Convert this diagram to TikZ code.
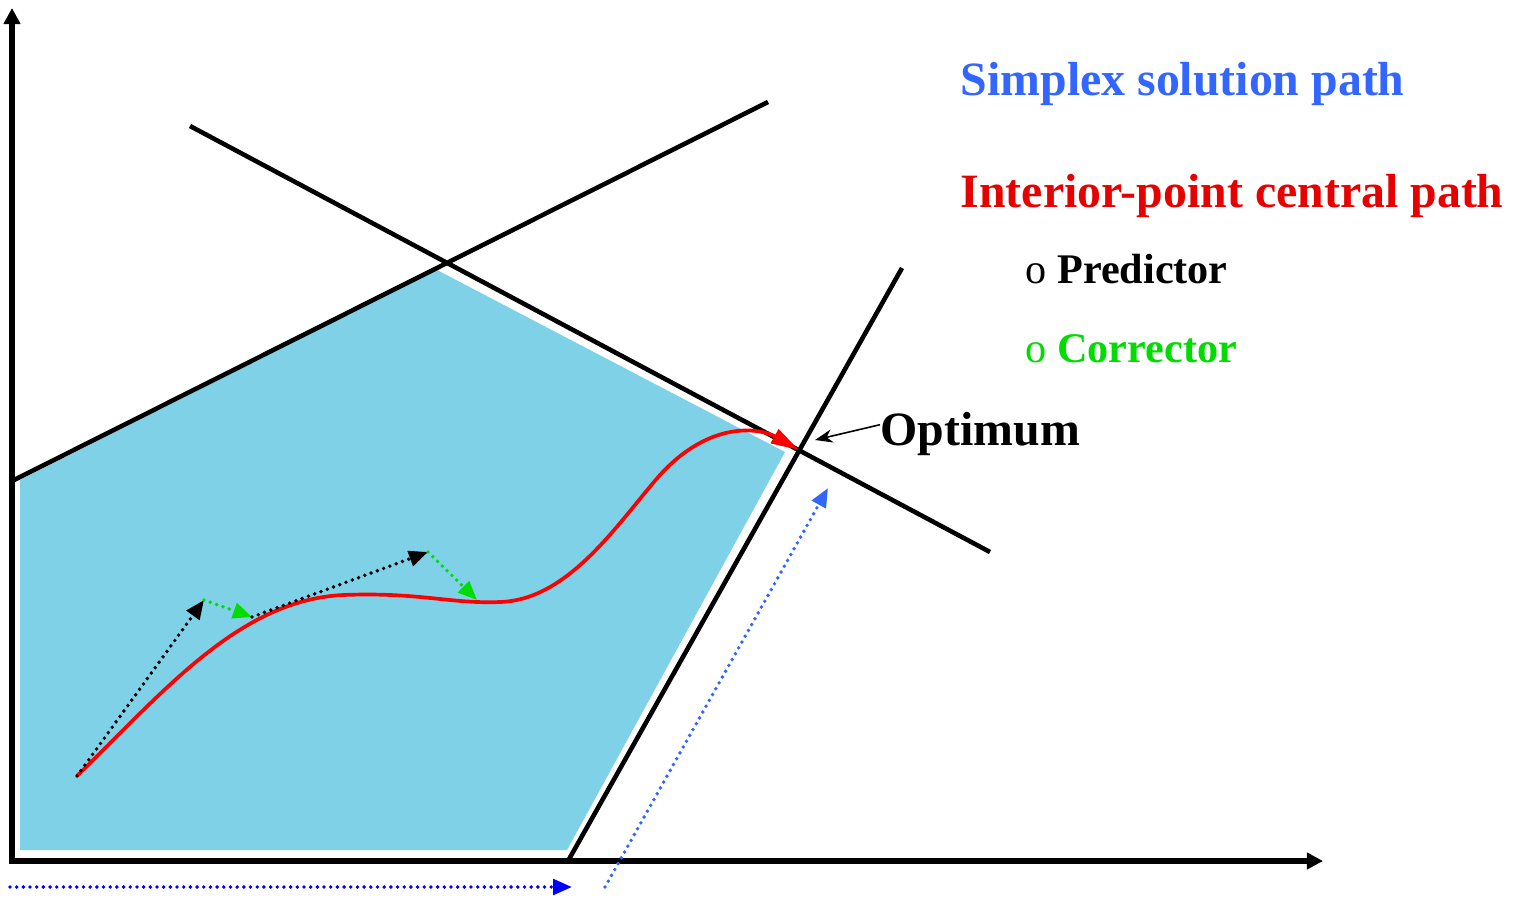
\documentclass[tikz,border=0pt]{standalone}
\usepackage{fontspec}
\setmainfont{Liberation Serif}
\usepackage{tikz}
\usetikzlibrary{arrows.meta,positioning,calc}
\usepackage{xcolor}
\definecolor{feasblue}{RGB}{127,209,232}
\definecolor{simplexblue}{RGB}{51,102,255}
\definecolor{ipred}{RGB}{230,0,0}
\definecolor{corrgreen}{RGB}{0,220,0}

\begin{document}
\begin{tikzpicture}[x=0.01cm,y=-0.01cm,
  bigtext/.style={font=\fontsize{13.6}{16}\selectfont\bfseries,inner sep=0pt,anchor=base west},
  itemtext/.style={font=\fontsize{12}{14}\selectfont,inner sep=0pt,anchor=base west},
  dotline/.style={line width=1.1pt,line cap=round,dash pattern=on 0pt off 1.9pt},
  dottip/.style={-{Triangle[length=5.4pt,width=4.4pt]}}]
\useasboundingbox (0,0) rectangle (1525,897);
\fill[feasblue] (20,480) -- (437,270) -- (785,452) -- (567,850) -- (20,850) -- cycle;
\draw[line width=1.6pt,{Triangle[length=4.6pt,width=4.6pt]}-{Triangle[length=4.6pt,width=4.6pt]}] (12,8) |- (1323,861);
\draw[line width=1.3pt] (14,480) -- (768,102);
\draw[line width=1.3pt] (190,126) -- (990,552);
\draw[line width=1.3pt] (568,861) -- (902,268);
\coordinate (x0) at (77,776);
\coordinate (p1) at (204,600);
\coordinate (x1) at (252,617);
\coordinate (p2) at (428,552);
\coordinate (x2) at (477,600);
\coordinate (opt) at (799,450);
\draw[red,line width=1.05pt,-{Triangle[length=8pt,width=4.4pt]}] (x0) .. controls (165,690) and (240,600) .. (343,595)
  .. controls (420,592) and (450,604) .. (500,602)
  .. controls (570,600) and (620,520) .. (660,475)
  .. controls (710,420) and (760,428) .. (opt);
\draw[dotline,dottip] (x0) -- (p1);
\draw[dotline,dottip,corrgreen] (p1) -- (x1);
\draw[dotline,dottip] (x1) -- (p2);
\draw[dotline,dottip,corrgreen] (p2) -- (x2);
\coordinate (s0) at (10,887);
\coordinate (s1) at (572,887);
\coordinate (s2) at (605,887);
\coordinate (s3) at (828,488);
\draw[dotline,dottip,blue] (s0) -- (s1);
\draw[dotline,dottip,simplexblue] (s2) -- (s3);
\node[bigtext] (optimum) at (880,445) {Optimum};
\coordinate (optmark) at (815,440);
\draw[line width=0.45pt,-{Stealth[length=5pt,width=3.8pt]}] ([yshift=2.5pt]optimum.west) -- (optmark);
\node[bigtext,text=simplexblue] (simplex) at (960,95) {Simplex solution path};
\node[bigtext,text=ipred] (interior) at (960,207) {Interior-point central path};
\node[itemtext] (predictor) at (1025,283) {o \textbf{Predictor}};
\node[itemtext,text=corrgreen] (corrector) at (1025,362) {o \textbf{Corrector}};
\end{tikzpicture}
\end{document}
